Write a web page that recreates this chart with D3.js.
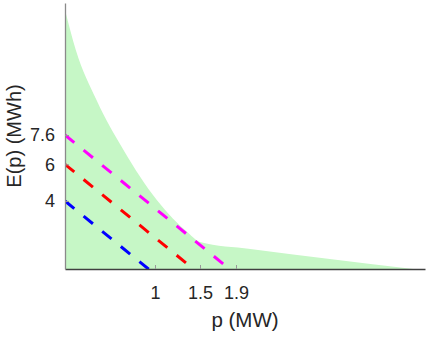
<!DOCTYPE html>
<html>
<head>
<meta charset="utf-8">
<script src="https://cdn.jsdelivr.net/npm/d3@7"></script>
<style>
  body { margin: 0; background: #fff; }
  text { font-family: "Liberation Sans", Arial, sans-serif; fill: #262626; }
</style>
</head>
<body>
<svg id="drawing_region"></svg>
<script>
// energy curve (green area)
const curve_p = [0, 0.12, 0.35, 0.65, 1.02, 1.37, 1.5, 2.06, 3.87];
const curve_e = [14.42, 12.24, 9.51, 6.78, 4.05, 2.25, 1.76, 1.38, 0.29];

// dashed lines: E(0) and p where E hits 0
const line_names = ['blue', 'red', 'magenta'];
const line_e0 = [4, 6, 7.6];
const line_p0 = [1, 1.5, 1.9];

const xticks = [1, 1.5, 1.9];
const yticks = [4, 6, 7.6];

var config = {
  parent: '#drawing_region',
  width: 434,
  height: 338,
  margin: {top:3, right:9, bottom:69, left:65},
  xlabel: 'p (MW)',
  ylabel: 'E(p) (MWh)'
};

class EnergyChart{
  constructor(config){
    this.config = config;
    this.init();
  }
  init(){
    this.svg = d3.select( this.config.parent )
      .attr('width', this.config.width)
      .attr('height', this.config.height);
    this.inner_width = this.config.width - this.config.margin.left - this.config.margin.right;
    this.inner_height = this.config.height - this.config.margin.top - this.config.margin.bottom;
    this.chart = this.svg.append('g')
      .attr('transform', `translate(${this.config.margin.left}, ${this.config.margin.top})`);

    this.xscale = d3.scaleLinear()
      .domain([0, 4])
      .range([0, this.inner_width]);
    this.yscale = d3.scaleLinear()
      .domain([0.29, 14.8])
      .range([this.inner_height, 0]);

    this.svg.append('clipPath').attr('id', 'clip')
      .append('rect')
      .attr('width', this.inner_width)
      .attr('height', this.inner_height);
  }
  render(){
    const area_data = curve_p.map((p, i) => ({p: p, e: curve_e[i]}));
    const area = d3.area()
      .x( d => this.xscale(d.p) )
      .y0( this.inner_height )
      .y1( d => this.yscale(d.e) )
      .curve( d3.curveMonotoneX );

    const plot = this.chart.append('g').attr('clip-path', 'url(#clip)');
    plot.append('path')
      .attr('d', area(area_data))
      .attr('fill', '#c6f7c6');

    const line = d3.line()
      .x( d => this.xscale(d[0]) )
      .y( d => this.yscale(d[1]) );

    line_names.forEach((c, i) => {
      plot.append('path')
        .attr('d', line([[0, line_e0[i]], [line_p0[i], 0]]))
        .attr('stroke', c === 'blue' ? '#0000ff' : c === 'red' ? '#ff0000' : '#ff00ff')
        .attr('stroke-width', 3)
        .attr('stroke-dasharray', '12,12')
        .attr('fill', 'none');
    });

    // axes, ticks inward like the original
    const xaxis = d3.axisBottom( this.xscale )
      .tickValues(xticks)
      .tickFormat(d3.format(''))
      .tickSize(-4)
      .tickPadding(17)
      .tickSizeOuter(0);
    const yaxis = d3.axisLeft( this.yscale )
      .tickValues(yticks)
      .tickFormat(d3.format(''))
      .tickSize(-4)
      .tickPadding(10)
      .tickSizeOuter(0);

    const xg = this.chart.append('g')
      .attr('transform', `translate(0, ${this.inner_height})`)
      .call( xaxis );
    const yg = this.chart.append('g')
      .call( yaxis );

    xg.select('.domain').attr('stroke', '#404040').attr('stroke-width', 1.3);
    yg.select('.domain').attr('stroke', '#8a8a8a').attr('stroke-width', 1.3);
    xg.selectAll('.tick line').attr('stroke', '#999');
    yg.selectAll('.tick line').attr('stroke', '#999');
    xg.selectAll('.tick text').attr('font-size', 18).attr('font-family', null).attr('fill', '#262626');
    yg.selectAll('.tick text').attr('font-size', 18).attr('font-family', null).attr('fill', '#262626');

    this.svg.append('text')
      .attr('x', this.config.margin.left + this.inner_width / 2)
      .attr('y', 327)
      .attr('text-anchor', 'middle')
      .attr('font-size', 20.5)
      .text(this.config.xlabel);

    this.svg.append('text')
      .attr('transform', `translate(21, 136) rotate(-90)`)
      .attr('text-anchor', 'middle')
      .attr('font-size', 20)
      .text(this.config.ylabel);
  }
}

const chart = new EnergyChart( config );
chart.render();
</script>
</body>
</html>
